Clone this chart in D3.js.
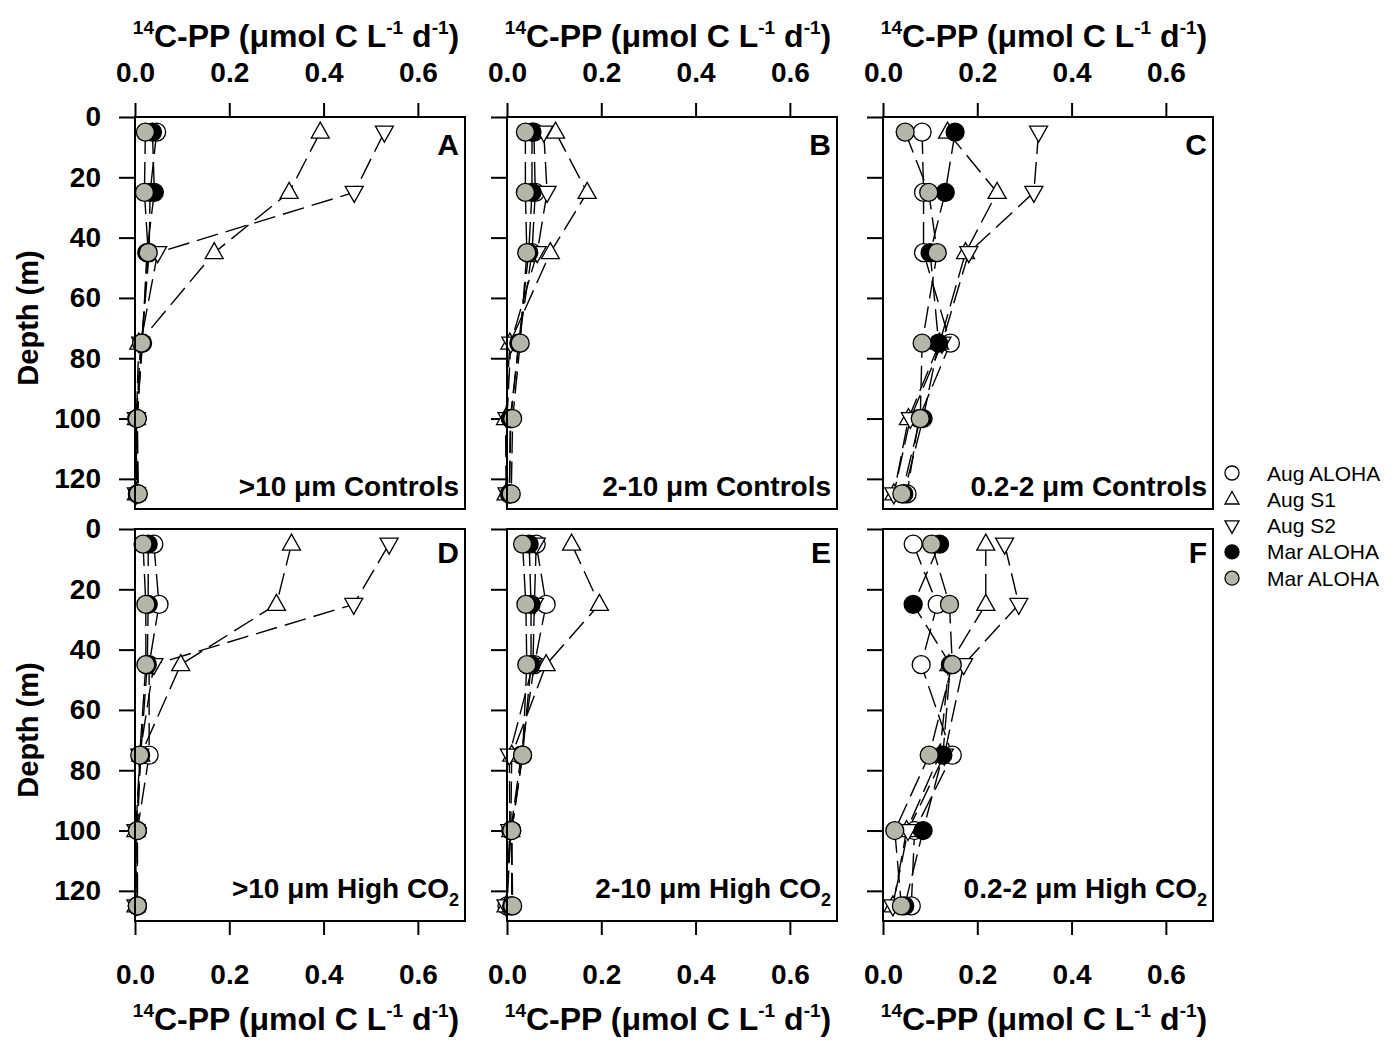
<!DOCTYPE html>
<html>
<head>
<meta charset="utf-8">
<script src="https://cdn.jsdelivr.net/npm/d3@7"></script>
<style>
  body { margin: 0; background: #fff; }
  svg { font-family: "Liberation Sans", Arial, sans-serif; }
</style>
</head>
<body>
<div id="chart"></div>
<script>
// 14C-PP depth profiles, 3 size fractions x 2 treatments

const depths = [5, 25, 45, 75, 100, 125];
const seriesNames = ["Aug ALOHA", "Aug S1", "Aug S2", "Mar ALOHA", "Mar ALOHA"];
const xTicks = [0, 0.2, 0.4, 0.6];
const yTicks = [0, 20, 40, 60, 80, 100, 120];
const panelLetters = ["A", "B", "C", "D", "E", "F"];
const sizeFractions = [">10 \u03bcm", "2-10 \u03bcm", "0.2-2 \u03bcm"];
const treatments = ["Controls", "High CO"];

// each panel: [Aug ALOHA, Aug S1, Aug S2, Mar ALOHA (black), Mar ALOHA (grey)]
const panelA = [
  [0.046, 0.032, 0.030, 0.014, 0.004, 0.006],
  [0.393, 0.327, 0.168, 0.008, 0.003, 0.003],
  [0.529, 0.465, 0.048, 0.012, 0.003, 0.003],
  [0.037, 0.041, 0.025, 0.016, 0.004, 0.005],
  [0.022, 0.020, 0.028, 0.014, 0.005, 0.007]
];
const panelB = [
  [0.057, 0.060, 0.053, 0.025, 0.008, 0.005],
  [0.103, 0.170, 0.092, 0.006, -0.003, -0.002],
  [0.078, 0.085, 0.064, 0.008, 0.000, 0.000],
  [0.053, 0.053, 0.046, 0.025, 0.007, 0.005],
  [0.039, 0.039, 0.042, 0.028, 0.012, 0.009]
];
const panelC = [
  [0.083, 0.086, 0.086, 0.143, 0.076, 0.051],
  [0.137, 0.242, 0.175, 0.120, 0.054, 0.023],
  [0.330, 0.320, 0.182, 0.125, 0.058, 0.023],
  [0.153, 0.132, 0.100, 0.118, 0.085, 0.044],
  [0.047, 0.097, 0.115, 0.083, 0.079, 0.040]
];
const panelD = [
  [0.040, 0.051, 0.030, 0.030, 0.005, 0.005],
  [0.332, 0.300, 0.097, 0.012, 0.002, 0.002],
  [0.539, 0.464, 0.040, 0.010, 0.002, 0.002],
  [0.028, 0.028, 0.026, 0.012, 0.005, 0.005],
  [0.017, 0.023, 0.023, 0.010, 0.005, 0.005]
];
const panelE = [
  [0.062, 0.083, 0.058, 0.030, 0.008, 0.000],
  [0.137, 0.196, 0.083, 0.010, 0.008, -0.002],
  [0.062, 0.058, 0.055, 0.005, 0.006, -0.002],
  [0.047, 0.051, 0.051, 0.033, 0.010, 0.010],
  [0.033, 0.040, 0.042, 0.033, 0.010, 0.012]
];
const panelF = [
  [0.064, 0.115, 0.081, 0.147, 0.067, 0.060],
  [0.218, 0.218, 0.140, 0.120, 0.050, 0.021],
  [0.258, 0.288, 0.171, 0.130, 0.053, 0.021],
  [0.120, 0.064, 0.143, 0.127, 0.085, 0.046],
  [0.103, 0.141, 0.147, 0.098, 0.025, 0.039]
];
const panels = [panelA, panelB, panelC, panelD, panelE, panelF];

// marker look per series
const markerShape = ["circle", "up", "down", "circle", "circle"];
const markerFill = ["#fff", "#fff", "#fff", "#000", "#b5b5a9"];

const width = 1400, height = 1042;
const colLeft = [135, 507, 883], panelW = 330;
const rowTop = [117, 529], panelH = 392;

const svg = d3.select("#chart").append("svg")
  .attr("width", width)
  .attr("height", height);

const x = d3.scaleLinear().domain([0, 0.7]).range([0, panelW]);
const y = d3.scaleLinear().domain([0, 130]).range([0, panelH]);

function drawMarker(g, shape, fill, s) {
  if (shape === "circle") {
    g.append("circle").attr("r", 9 * s).attr("fill", fill)
      .attr("stroke", "#000").attr("stroke-width", 1.3);
  } else {
    const h = shape === "up" ? 1 : -1;
    g.append("path")
      .attr("d", `M0,${-10 * h * s}L${9 * s},${6 * h * s}L${-9 * s},${6 * h * s}Z`)
      .attr("fill", fill).attr("stroke", "#000").attr("stroke-width", 1.3);
  }
}

function axisTitle(sel, cx, by) {
  const t = sel.append("text")
    .attr("x", cx).attr("y", by)
    .attr("text-anchor", "middle")
    .attr("font-size", 32).attr("font-weight", "bold");
  t.append("tspan").attr("font-size", 19).attr("dy", -13).text("14");
  t.append("tspan").attr("dy", 13).text("C-PP (\u03bcmol C L");
  t.append("tspan").attr("font-size", 19).attr("dy", -13).text("-1");
  t.append("tspan").attr("dy", 13).text(" d");
  t.append("tspan").attr("font-size", 19).attr("dy", -13).text("-1");
  t.append("tspan").attr("dy", 13).text(")");
}

const line = d3.line()
  .x(d => x(d.v))
  .y(d => y(d.d));

panels.forEach((series, i) => {
  const row = Math.floor(i / 3), col = i % 3;
  const g = svg.append("g")
    .attr("transform", `translate(${colLeft[col]},${rowTop[row]})`);

  // x axis: top for upper row, bottom for lower row
  if (row === 0) {
    const ax = g.append("g")
      .call(d3.axisTop(x).tickValues(xTicks).tickSize(14).tickSizeOuter(0)
        .tickPadding(21).tickFormat(d3.format(".1f")));
    ax.select(".domain").remove();
    ax.selectAll("line").attr("stroke-width", 2);
    ax.selectAll("text").attr("font-size", 28).attr("font-weight", "bold").attr("fill", "#000");
    axisTitle(svg, colLeft[col] + panelW / 2 - 4, 47);
  } else {
    const ax = g.append("g")
      .attr("transform", `translate(0,${panelH})`)
      .call(d3.axisBottom(x).tickValues(xTicks).tickSize(14).tickSizeOuter(0)
        .tickPadding(29).tickFormat(d3.format(".1f")));
    ax.select(".domain").remove();
    ax.selectAll("line").attr("stroke-width", 2);
    ax.selectAll("text").attr("font-size", 28).attr("font-weight", "bold").attr("fill", "#000");
    axisTitle(svg, colLeft[col] + panelW / 2 - 4, 1030);
  }

  // y axis
  const ay = g.append("g")
    .call(d3.axisLeft(y).tickValues(yTicks).tickSize(16).tickSizeOuter(0)
      .tickPadding(18).tickFormat(col === 0 ? d3.format("d") : ""));
  ay.select(".domain").remove();
  ay.selectAll("line").attr("stroke-width", 2);
  ay.selectAll("text").attr("font-size", 28).attr("font-weight", "bold").attr("fill", "#000");

  // dashed profile lines
  series.forEach(vals => {
    const pts = vals.map((v, k) => ({v: v, d: depths[k]}));
    g.append("path")
      .datum(pts)
      .attr("d", line)
      .attr("fill", "none")
      .attr("stroke", "#000")
      .attr("stroke-width", 1.4)
      .attr("stroke-dasharray", "22,8");
  });

  // markers
  series.forEach((vals, s) => {
    vals.forEach((v, k) => {
      const m = g.append("g")
        .attr("transform", `translate(${x(v)},${y(depths[k])})`);
      drawMarker(m, markerShape[s], markerFill[s], 1);
    });
  });

  // frame
  g.append("rect")
    .attr("width", panelW).attr("height", panelH)
    .attr("fill", "none").attr("stroke", "#000").attr("stroke-width", 2);

  // panel letter
  g.append("text")
    .attr("x", panelW - 6).attr("y", row === 0 ? 38 : 34)
    .attr("text-anchor", "end")
    .attr("font-size", 30).attr("font-weight", "bold")
    .text(panelLetters[i]);

  // panel caption
  const cap = g.append("text")
    .attr("x", panelW - 6).attr("y", row === 0 ? panelH - 13 : panelH - 23)
    .attr("text-anchor", "end")
    .attr("font-size", 28).attr("font-weight", "bold");
  cap.append("tspan").text(sizeFractions[col] + " " + treatments[row]);
  if (row === 1) {
    cap.append("tspan").attr("font-size", 18).attr("dy", 8).text("2");
  }
});

// depth axis titles
rowTop.forEach(t => {
  svg.append("text")
    .attr("transform", `translate(38,${t + panelH / 2 + 5}) rotate(-90)`)
    .attr("text-anchor", "middle")
    .attr("font-size", 29).attr("font-weight", "bold")
    .text("Depth (m)");
});

// legend
const legend = svg.append("g").attr("transform", "translate(1232,473)");
seriesNames.forEach((name, s) => {
  const r = legend.append("g").attr("transform", `translate(0,${s * 26.3})`);
  drawMarker(r, markerShape[s], markerFill[s], 0.78);
  r.append("text")
    .attr("x", 35).attr("y", 7.5)
    .attr("font-size", 21)
    .text(name);
});
</script>
</body>
</html>
